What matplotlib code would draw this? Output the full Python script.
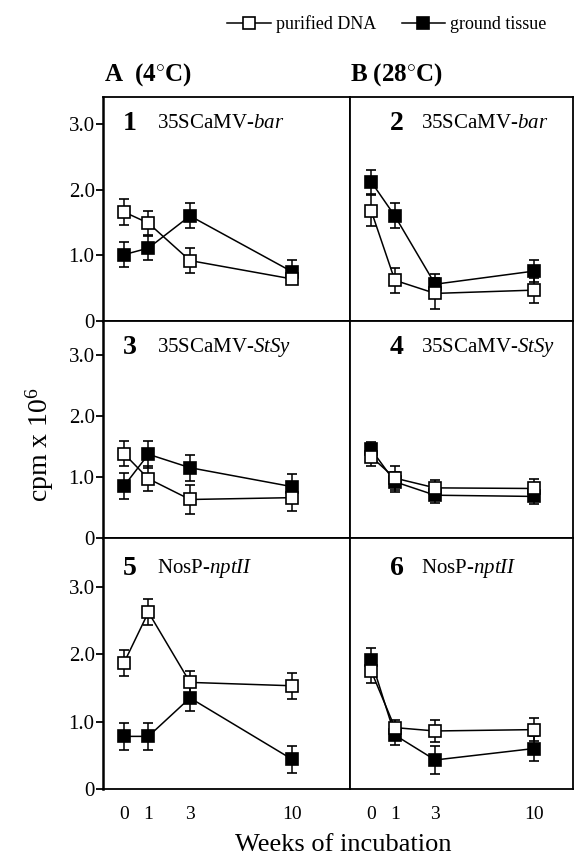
import numpy as np
import matplotlib
matplotlib.use("Agg")
import matplotlib.pyplot as plt
from matplotlib.lines import Line2D

plt.rcParams['font.family'] = ['Liberation Serif', 'DejaVu Serif']
plt.rcParams['mathtext.fontset'] = 'custom'
plt.rcParams['mathtext.rm'] = 'Liberation Serif'
plt.rcParams['mathtext.it'] = 'Liberation Serif:italic'

# data (cpm x 10^6)
weeks = [0, 1, 3, 10]
week_labels = ['0', '1', '3', '10']

dna_1 = [1.66, 1.49, 0.92, 0.64]
dna_1_err = [0.20, 0.18, 0.19, 0.08]
tis_1 = [1.01, 1.11, 1.60, 0.75]
tis_1_err = [0.19, 0.18, 0.19, 0.18]

dna_2 = [1.68, 0.62, 0.42, 0.47]
dna_2_err = [0.24, 0.19, 0.23, 0.19]
tis_2 = [2.12, 1.60, 0.56, 0.76]
tis_2_err = [0.18, 0.19, 0.15, 0.17]

dna_3 = [1.38, 0.97, 0.63, 0.66]
dna_3_err = [0.21, 0.20, 0.23, 0.22]
tis_3 = [0.85, 1.37, 1.15, 0.84]
tis_3_err = [0.21, 0.22, 0.21, 0.20]

dna_4 = [1.33, 0.98, 0.82, 0.81]
dna_4_err = [0.15, 0.19, 0.13, 0.16]
tis_4 = [1.45, 0.92, 0.70, 0.68]
tis_4_err = [0.12, 0.16, 0.12, 0.12]

dna_5 = [1.87, 2.62, 1.58, 1.53]
dna_5_err = [0.19, 0.19, 0.17, 0.19]
tis_5 = [0.78, 0.78, 1.35, 0.44]
tis_5_err = [0.20, 0.20, 0.20, 0.20]

dna_6 = [1.75, 0.91, 0.86, 0.88]
dna_6_err = [0.18, 0.12, 0.17, 0.17]
tis_6 = [1.91, 0.80, 0.43, 0.60]
tis_6_err = [0.18, 0.15, 0.21, 0.19]

panels = [
    ('1', '35SCaMV-', 'bar', dna_1, dna_1_err, tis_1, tis_1_err),
    ('2', '35SCaMV-', 'bar', dna_2, dna_2_err, tis_2, tis_2_err),
    ('3', '35SCaMV-', 'StSy', dna_3, dna_3_err, tis_3, tis_3_err),
    ('4', '35SCaMV-', 'StSy', dna_4, dna_4_err, tis_4, tis_4_err),
    ('5', 'NosP-', 'nptII', dna_5, dna_5_err, tis_5, tis_5_err),
    ('6', 'NosP-', 'nptII', dna_6, dna_6_err, tis_6, tis_6_err),
]

# week axis is drawn compressed in the original (hand drawn)
def fwd(x):
    return np.log(np.asarray(x) + 8.0)

def inv(y):
    return np.exp(y) - 8.0

W, H = 574, 859
fig = plt.figure(figsize=(W / 100, H / 100), dpi=100)

col_x = [103, 350, 573]
row_y = [97, 321, 538, 789]
row_ylim = [3.41, 3.55, 3.72]
col_xlim = [(-0.77, 15.8), (-0.80, 13.85)]
num_x = [0.109, 0.21]
txt_x = [0.22, 0.32]

for i, (num, pre, ital, dna, dna_e, tis, tis_e) in enumerate(panels):
    r, c = divmod(i, 2)
    left = col_x[c] / W
    width = (col_x[c + 1] - col_x[c]) / W
    bottom = 1 - row_y[r + 1] / H
    height = (row_y[r + 1] - row_y[r]) / H
    ax = fig.add_axes([left, bottom, width, height])
    ax.set_xscale('function', functions=(fwd, inv))
    ax.set_xlim(*col_xlim[c])
    ax.set_ylim(0, row_ylim[r])

    ax.errorbar(weeks, tis, yerr=tis_e, color='black', marker='s', ms=8,
                mfc='black', mec='black', mew=1.2, lw=1.1, elinewidth=1.1,
                capsize=3.5, capthick=1.1, zorder=3)
    ax.errorbar(weeks, dna, yerr=dna_e, color='black', marker='s', ms=8,
                mfc='white', mec='black', mew=1.2, lw=1.1, elinewidth=1.1,
                capsize=3.5, capthick=1.1, zorder=4)

    ax.text(num_x[c], 0.88, num, transform=ax.transAxes, ha='center',
            va='center', fontsize=20, fontweight='bold')
    ax.text(txt_x[c], 0.88, pre + r'$\it{' + ital + '}$', transform=ax.transAxes,
            ha='left', va='center', fontsize=15)

    for s in ax.spines.values():
        s.set_linewidth(1.3)
    ax.minorticks_off()
    if c == 0:
        ax.spines['left'].set_linewidth(1.8)
        ax.set_yticks([0, 1, 2, 3])
        ax.set_yticklabels(['0', '1.0', '2.0', '3.0'], fontsize=15)
        ax.tick_params(axis='y', direction='out', length=5, width=1.3, pad=1)
    else:
        ax.set_yticks([])
    if r == 2:
        ax.set_xticks(weeks)
        ax.set_xticklabels(week_labels, fontsize=14)
        ax.tick_params(axis='x', length=0, pad=12)
    else:
        ax.set_xticks([])

fig.text(104 / W, 1 - 75 / H, 'A  (4$^{\\circ}$C)', fontsize=18, fontweight='bold',
         ha='left', va='center')
fig.text(350 / W, 1 - 75 / H, 'B (28$^{\\circ}$C)', fontsize=18, fontweight='bold',
         ha='left', va='center')

fig.text(40 / W, 1 - 445 / H, 'cpm x 10$^{6}$', rotation=90, fontsize=20,
         ha='center', va='center')
fig.text(343 / W, 1 - 845 / H, 'Weeks of incubation', fontsize=19,
         ha='center', va='center')

handles = [
    Line2D([], [], color='black', lw=1.1, marker='s', ms=8, mfc='white', mec='black', mew=1.2),
    Line2D([], [], color='black', lw=1.1, marker='s', ms=8, mfc='black', mec='black', mew=1.2),
]
fig.legend(handles, ['purified DNA', 'ground tissue'], loc='center',
           bbox_to_anchor=(387 / W, 1 - 24 / H), ncol=2, frameon=False,
           fontsize=13, handlelength=2.4, handletextpad=0.3, columnspacing=1.4,
           borderpad=0.2)

fig.savefig('out.png', dpi=100)
